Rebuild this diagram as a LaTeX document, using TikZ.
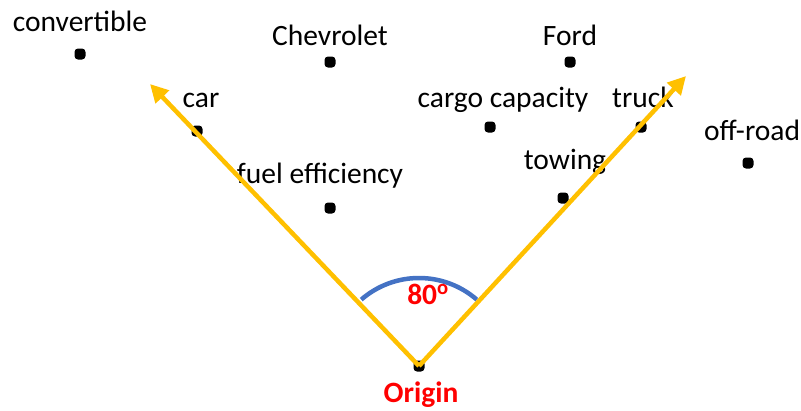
\documentclass[tikz,border=0pt]{standalone}
\usepackage{fontspec}
\setmainfont{Carlito}
\usetikzlibrary{arrows.meta}
\definecolor{axisgold}{HTML}{FFC000}
\definecolor{arcblue}{HTML}{4472C4}
\tikzset{
  point/.style={rectangle, rounded corners=3.5pt, fill=black, minimum size=11pt, inner sep=0pt},
  word/.style={anchor=base, inner sep=0pt, font=\fontsize{29.5}{34}\selectfont},
  redword/.style={anchor=base, inner sep=0pt, text=red, font=\fontsize{29.5}{34}\selectfont\bfseries},
  axis/.style={axisgold, line width=4.5pt, -{Triangle[length=18pt,width=18pt]}},
  anglearc/.style={arcblue, line width=4.5pt}
}

\begin{document}
\begin{tikzpicture}[x=1pt,y=-1pt]
  \useasboundingbox (0,0) rectangle (801,410);

  % terms
  \node[point] (convertible) at (80,54) {};
  \node[word] (convertiblelabel) at (80,31) {convertible};
  \node[point] (chevrolet) at (330,62) {};
  \node[word] (chevroletlabel) at (330,45) {Chevrolet};
  \node[point] (ford) at (570,62) {};
  \node[word] (fordlabel) at (570,45) {Ford};
  \node[point] (car) at (197,131) {};
  \node[word] (carlabel) at (201,107) {car};
  \node[point] (cargo) at (490,127) {};
  \node[word] (cargolabel) at (503,107) {cargo capacity};
  \node[point] (truck) at (641,127) {};
  \node[word] (trucklabel) at (643,107) {truck};
  \node[point] (offroad) at (748,163) {};
  \node[word] (offroadlabel) at (752,140) {off-road};
  \node[point] (fuel) at (330,208) {};
  \node[word] (fuellabel) at (320,183) {fuel efficiency};
  \node[point] (towing) at (563,198) {};
  \node[word] (towinglabel) at (565,169) {towing};

  % origin and the two axes
  \node[point] (origin) at (419,366) {};
  \node[redword] (originlabel) at (421,402) {Origin};
  \coordinate (lefttip) at (150,84);
  \coordinate (righttip) at (686,76);
  \draw[axis] (origin.center) -- (lefttip);
  \draw[axis] (origin.center) -- (righttip);

  % angle between them
  \draw[anglearc] (origin.center) ++(-131:88) arc[start angle=-131, end angle=-49, radius=88];
  \node[redword] (anglelabel) at (428,304) {80\textsuperscript{o}};
\end{tikzpicture}
\end{document}
